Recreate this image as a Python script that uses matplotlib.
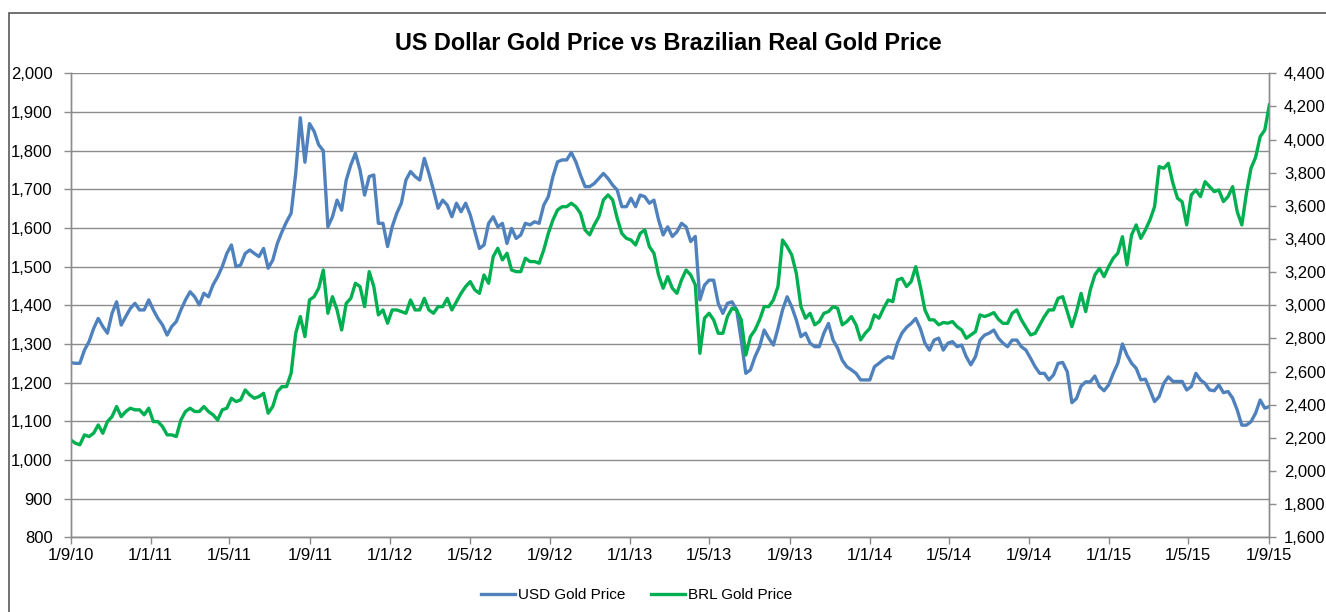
import matplotlib
matplotlib.use("Agg")
import matplotlib.pyplot as plt
from matplotlib.patches import Rectangle
from matplotlib.ticker import FuncFormatter, MultipleLocator
import pandas as pd

plt.rcParams['font.family'] = ['Liberation Sans', 'DejaVu Sans']

# Weekly readings, starting 1 Sep 2010
usd_price = [
    1252, 1250, 1250, 1284, 1306, 1340, 1366, 1345, 1328, 1379, 1409, 1349, 1371, 1392,
    1405, 1388, 1388, 1414, 1388, 1366, 1349, 1323, 1345, 1358, 1388, 1414, 1435, 1422,
    1401, 1431, 1422, 1453, 1474, 1500, 1534, 1556, 1500, 1504, 1534, 1543, 1534, 1526,
    1547, 1496, 1517, 1560, 1590, 1616, 1638, 1741, 1885, 1770, 1870, 1850, 1815, 1800,
    1603, 1629, 1672, 1646, 1724, 1763, 1793, 1750, 1685, 1733, 1737, 1612, 1612, 1552,
    1603, 1638, 1664, 1724, 1746, 1733, 1724, 1780, 1741, 1698, 1651, 1672, 1659, 1629,
    1664,
    1642, 1664, 1634, 1590, 1547, 1556, 1612, 1629, 1603, 1612, 1560, 1599, 1573, 1582,
    1612, 1608, 1616, 1612, 1659, 1681, 1733, 1771, 1776, 1776, 1795, 1771, 1737, 1707,
    1707, 1715, 1728, 1741, 1728, 1711, 1698, 1655, 1655, 1677, 1655, 1685, 1681, 1664,
    1672, 1621,
    1582, 1603, 1578, 1590, 1612, 1603, 1565, 1578, 1414, 1452, 1465, 1465, 1405, 1379,
    1405, 1409, 1388, 1310, 1224, 1233, 1267, 1293, 1336, 1315, 1297, 1340, 1388, 1422,
    1396, 1362, 1319, 1328, 1302, 1293, 1293, 1328, 1353, 1310, 1289, 1258, 1241, 1233,
    1224,
    1207, 1207, 1207, 1241, 1250, 1260, 1267, 1263, 1302, 1328, 1343, 1353, 1366, 1340,
    1302, 1284, 1310, 1315, 1284, 1302, 1306, 1293, 1297, 1267, 1246, 1267, 1310, 1323,
    1328, 1336, 1315, 1302, 1293, 1310, 1310, 1293, 1284, 1263, 1241, 1224, 1224, 1207,
    1220, 1250,
    1252, 1228, 1148, 1159, 1191, 1202, 1202, 1217, 1190, 1179, 1194, 1224, 1250, 1300,
    1271, 1250, 1237, 1207, 1209, 1181, 1151, 1164, 1198, 1215, 1203, 1203, 1203, 1181,
    1190, 1224, 1207, 1198, 1181, 1179, 1194, 1174, 1177, 1160, 1129, 1090, 1090, 1099,
    1121, 1155, 1134, 1138,
]

brl_price = [
    2188, 2168, 2158, 2218, 2208, 2228, 2278, 2228, 2298, 2328, 2389, 2328, 2359, 2379,
    2369, 2369, 2339, 2379, 2298, 2298, 2268, 2218, 2218, 2208, 2308, 2359, 2379, 2359,
    2359, 2389, 2359, 2339, 2308, 2369, 2379, 2439, 2419, 2429, 2489, 2459, 2439, 2449,
    2469, 2349, 2389, 2479, 2509, 2509, 2590, 2831, 2932, 2811, 3032, 3052, 3103, 3213,
    2952, 3052, 2972, 2851, 3012, 3042, 3133, 3113, 2992, 3203, 3113, 2942, 2972, 2892,
    2972, 2972, 2962, 2952, 3032, 2972, 2972, 3042, 2972, 2952, 2992, 2992, 3042, 2972,
    3022,
    3072, 3113, 3143, 3093, 3072, 3183, 3133, 3294, 3344, 3274, 3314, 3213, 3203, 3203,
    3284, 3264, 3264, 3254, 3334, 3434, 3515, 3575, 3595, 3595, 3616, 3595, 3555, 3455,
    3425, 3485, 3535, 3636, 3666, 3636, 3525, 3434, 3404, 3394, 3364, 3434, 3455, 3354,
    3314, 3183,
    3103, 3173, 3103, 3072, 3153, 3213, 3183, 3123, 2710, 2922, 2952, 2912, 2831, 2831,
    2932, 2982, 2972, 2912, 2700, 2811, 2851, 2912, 2992, 2992, 3032, 3113, 3394, 3354,
    3304, 3193, 2992, 2922, 2952, 2882, 2902, 2952, 2962, 2992, 2982, 2882, 2902, 2932,
    2882,
    2791, 2831, 2861, 2942, 2922, 2982, 3032, 3022, 3153, 3163, 3113, 3143, 3233, 3113,
    2972, 2912, 2912, 2882, 2896, 2892, 2902, 2871, 2851, 2801, 2821, 2841, 2942, 2932,
    2942, 2956, 2916, 2891, 2891, 2952, 2972, 2912, 2867, 2821, 2831, 2881, 2932, 2972,
    2972, 3042,
    3052, 2962, 2871, 2962, 3072, 2962, 3093, 3183, 3223, 3173, 3233, 3284, 3314, 3414,
    3243, 3425, 3485, 3404, 3455, 3515, 3595, 3837, 3827, 3857, 3736, 3646, 3625, 3485,
    3666, 3696, 3656, 3746, 3716, 3686, 3696, 3626, 3656, 3716, 3565, 3485, 3676, 3827,
    3893, 4018, 4058, 4209,
]

dates = pd.date_range("2010-09-01", periods=len(usd_price), freq="7D")
tick_dates = pd.date_range("2010-09-01", "2015-09-01", freq="4MS")

usd_color = '#4F81BD'
brl_color = '#00B050'
axis_gray = '#8c8c8c'

fig = plt.figure(figsize=(13.26, 6.12), dpi=100)

# outer chart border
fig.patches.append(Rectangle((9 / 1326, -0.05), 1.2, 0.05 + 1 - 13 / 612,
                             transform=fig.transFigure, fill=False,
                             edgecolor='#595959', linewidth=1.2))

ax1 = fig.add_axes([0.0533, 0.1221, 0.9035, 0.7581])
ax2 = ax1.twinx()

l1, = ax1.plot(dates, usd_price, color=usd_color, lw=2.4, label='USD Gold Price')
l2, = ax2.plot(dates, brl_price, color=brl_color, lw=2.4, label='BRL Gold Price')

ax1.set_xlim(pd.Timestamp("2010-09-01"), pd.Timestamp("2015-09-01"))
ax1.set_ylim(800, 2000)
ax2.set_ylim(1600, 4400)
ax1.yaxis.set_major_locator(MultipleLocator(100))
ax2.yaxis.set_major_locator(MultipleLocator(200))

comma = FuncFormatter(lambda v, p: f"{v:,.0f}")
ax1.yaxis.set_major_formatter(comma)
ax2.yaxis.set_major_formatter(comma)

ax1.set_xticks(tick_dates)
ax1.set_xticklabels([f"{d.day}/{d.month}/{d.year % 100:02d}" for d in tick_dates])

ax1.grid(axis='y', color=axis_gray, lw=1)
ax1.set_axisbelow(True)

for ax in (ax1, ax2):
    for s in ax.spines.values():
        s.set_color(axis_gray)
        s.set_linewidth(1)
    ax.spines['top'].set_visible(False)
    ax.tick_params(colors=axis_gray, labelcolor='black', labelsize=12,
                   length=5, width=1, direction='out')
ax1.tick_params(axis='x', pad=3)
ax1.tick_params(axis='y', pad=8)
ax2.tick_params(axis='y', pad=6)

fig.text(0.504, 1 - 43 / 612, 'US Dollar Gold Price vs Brazilian Real Gold Price',
         ha='center', va='center', fontsize=16.9, fontweight='bold')

fig.legend(handles=[l1, l2], loc='center', bbox_to_anchor=(0.48, 1 - 595 / 612),
           ncol=2, frameon=False, fontsize=11, handlelength=2.2,
           handletextpad=0.2, columnspacing=1.7)

fig.savefig('out.png', dpi=100)
